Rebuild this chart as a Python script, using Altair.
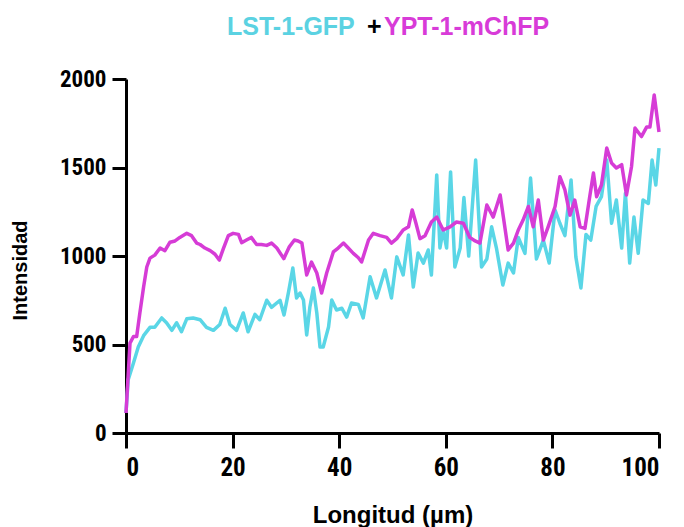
import altair as alt
import pandas as pd

# LST-1-GFP (cyan)
lst_x = [0, 0.4, 1.4, 2.3, 3.3, 4.5, 5.4, 6.7, 7.6, 8.6, 9.5, 10.4, 11.4, 12.6, 13.9, 15.1,
         16.4, 17.6, 18.6, 19.5, 20.75, 22, 22.9, 24.2, 25.1, 26.4, 27.3, 28.9, 29.65, 30.5,
         31.3, 32, 32.65, 33.3, 33.9, 34.5, 35.15, 35.8, 36.4, 37, 38, 38.6, 39.5, 40.5, 41.4,
         42.3, 43.6, 44.5, 45.8, 47, 48.6, 49.8, 50.8, 52, 53, 53.9, 54.8, 55.8, 56.7, 57.3,
         58.3, 58.9, 59.5, 60.15, 60.9, 61.7, 62.7, 63.4, 64.3, 65.6, 66.7, 67.7, 68.6, 69.5,
         70.7, 71.7, 72.7, 73.6, 74.85, 75.9, 77, 78.3, 79.4, 80.5, 81.4, 82.35, 83.5, 84.4,
         85.35, 86.3, 87.2, 88.2, 89.2, 90.2, 91.1, 92, 93, 93.7, 94.5, 95.3, 96.1, 97, 98,
         98.7, 99.4, 100]
lst_y = [113, 300, 395, 486, 550, 597, 597, 650, 623, 580, 623, 572, 645, 650, 640, 597,
         580, 613, 705, 613, 580, 678, 572, 670, 640, 750, 710, 750, 667, 797,
         932, 763, 791, 751, 554, 712, 819, 678, 486, 486, 599, 751, 695, 705, 655,
         734, 726, 650, 883, 763, 921, 763, 995, 893, 1119, 825, 1017, 960, 1034, 893,
         1458, 1045, 1147, 1045, 1475, 938, 1045, 1330, 1000, 1542, 938, 983, 1165, 1045,
         836, 960, 904, 1105, 1015, 1440, 983, 1090, 960, 1260, 1185, 1115, 1430, 995,
         819, 1122, 1090, 1280, 1335, 1542, 1185, 1316, 1045, 1355, 960, 1220, 1015, 1316, 1297,
         1542, 1401, 1610]

# YPT-1-mChFP (magenta)
ypt_x = [0, 0.75, 1.4, 2, 2.6, 3.3, 3.9, 4.5, 5.4, 6.4, 7.3, 8.25, 9.2, 10.1, 11.4, 12.3,
         13.25, 13.9, 14.8, 15.8, 16.7, 17.5, 18.25, 19.2, 20.1, 21.1, 21.7, 22.6, 23.5, 24.5,
         25.4, 26.4, 27.3, 28.3, 29.6, 30.6, 31.6, 32.3, 33, 33.9, 34.8, 35.8, 36.7, 37.65,
         38.9, 39.8, 40.8, 41.7, 42.65, 43.6, 44.2, 45.5, 46.4, 47.65, 48.9, 49.8, 50.8, 52,
         53, 53.7, 54.4, 55.15, 56.1, 57.3, 58.3, 59.5, 60.8, 62, 63.3, 64.5, 65.5, 66.4,
         67.7, 68.9, 70.2, 70.8, 71.7, 72.7, 73.6, 74.5, 75.5, 76.4, 77.35, 78.3, 79.2, 80.5,
         81.4, 82.35, 83.3, 84.2, 85.2, 86.1, 87, 87.7, 88.3, 89.2, 90.2, 91.1, 92, 93, 93.9,
         94.85, 95.5, 96.7, 97.7, 98.3, 99.1, 100]
ypt_y = [113, 508, 545, 545, 678, 825, 938, 988, 1005, 1045, 1030, 1078, 1085, 1105, 1128, 1115,
         1073, 1065, 1045, 1030, 1010, 977, 1040, 1115, 1128, 1122, 1075, 1090, 1105, 1065,
         1065, 1060, 1073, 1045, 985, 1050, 1090, 1085, 1073, 893, 966, 904, 791, 904,
         1023, 1045, 1073, 1045, 1015, 990, 966, 1090, 1128, 1115, 1105, 1073, 1098, 1147,
         1165, 1260, 1185, 1098, 1115, 1192, 1220, 1147, 1165, 1192, 1185, 1105, 1085, 1073,
         1288, 1220, 1345, 1220, 1034, 1073, 1147, 1203, 1280, 1165, 1316, 1090, 1165, 1280,
         1448, 1373, 1231, 1316, 1165, 1156, 1335, 1469, 1335, 1401, 1610, 1525, 1497, 1516, 1345,
         1506, 1723, 1675, 1729, 1729, 1910, 1701]

series_names = ["LST-1-GFP", "YPT-1-mChFP"]
series_colors = ["#5AD6E6", "#D63CD6"]
x_ticks = [0, 20, 40, 60, 80, 100]
y_ticks = [0, 500, 1000, 1500, 2000]

df = pd.concat([
    pd.DataFrame({"x": lst_x, "y": lst_y, "s": series_names[0], "o": 0}),
    pd.DataFrame({"x": ypt_x, "y": ypt_y, "s": series_names[1], "o": 1}),
])

FONT = "Liberation Sans"
NARROW = "Liberation Sans Narrow, Arial Narrow, Roboto Condensed, Liberation Sans"

lines = alt.Chart(df).mark_line(strokeWidth=3.5, strokeJoin="round").encode(
    x=alt.X("x:Q", scale=alt.Scale(domain=[0, 100], nice=False, zero=False),
            axis=alt.Axis(values=x_ticks, format="d", title="Longitud (µm)", titleY=89,
                          titleBaseline="alphabetic", titleFontSize=24,
                          labelFont=NARROW, labelFontSize=25, labelPadding=7, tickSize=15)),
    y=alt.Y("y:Q", scale=alt.Scale(domain=[0, 2000], nice=False),
            axis=alt.Axis(values=y_ticks, format="d", title="Intensidad", titleX=-106, titleY=191,
                          titleBaseline="middle", titleAngle=-90, titleFontSize=20,
                          labelFont=NARROW, labelFontSize=23, labelPadding=6, tickSize=14)),
    color=alt.Color("s:N", scale=alt.Scale(domain=series_names, range=series_colors), legend=None),
    order=alt.Order("o:Q"),
    detail="s:N",
)

def title_part(txt, xpos, col):
    return alt.Chart(pd.DataFrame({"t": [txt]})).mark_text(
        align="left", baseline="alphabetic", font=FONT, fontSize=25, fontWeight="bold", color=col
    ).encode(x=alt.value(xpos), y=alt.value(-44), text="t:N")

chart = alt.layer(
    lines,
    title_part(series_names[0], 101, "#5BD2E2"),
    title_part("+", 241, "#000000"),
    title_part(series_names[1], 258, "#D83BD8"),
).properties(
    width=533, height=354,
    autosize=alt.AutoSizeParams(type="none"),
    padding={"left": 126, "top": 79, "right": 25, "bottom": 94},
).configure_view(strokeWidth=0).configure_axis(
    grid=False, domainColor="black", domainWidth=3, tickColor="black", tickWidth=3,
    labelColor="black", labelFont=FONT, labelFontSize=20, labelFontWeight="bold",
    titleColor="black", titleFont=FONT, titleFontSize=20, titleFontWeight="bold",
)

chart.save("out.html", embed_options={"renderer": "svg", "actions": False})
